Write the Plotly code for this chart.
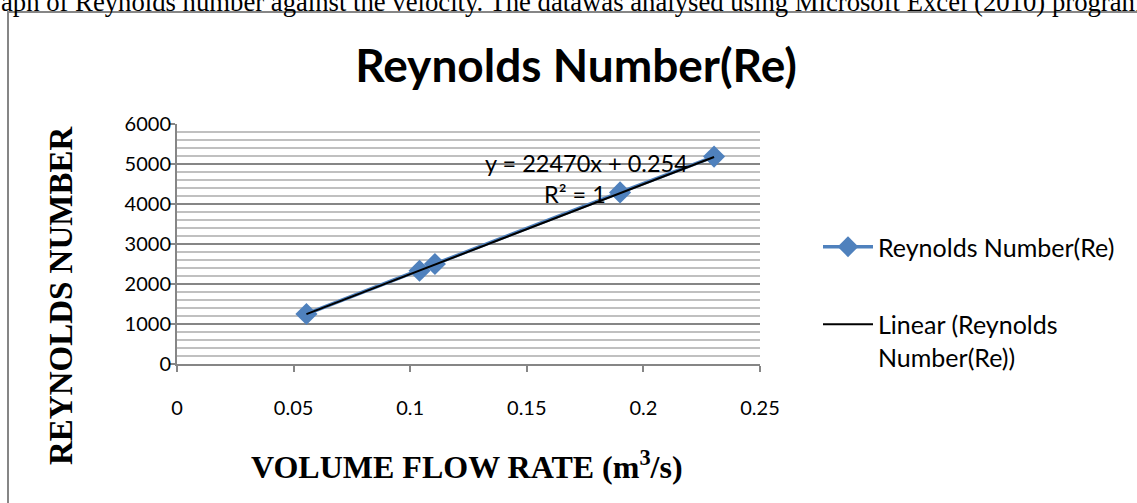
import plotly.graph_objects as go

# ---- data ----
flow_rate = [0.0555, 0.104, 0.1106, 0.190, 0.2303]      # m^3/s
reynolds = [1250, 2330, 2500, 4290, 5185]
slope = 22470
intercept = 0.254
x_ticks = [0, 0.05, 0.1, 0.15, 0.2, 0.25]
x_tick_labels = ["0", "0.05", "0.1", "0.15", "0.2", "0.25"]
y_ticks = [0, 1000, 2000, 3000, 4000, 5000, 6000]

trend_x = [min(flow_rate), max(flow_rate)]
trend_y = [slope * v + intercept for v in trend_x]

W, H = 1137, 503
L, R, T, B = 177, 377, 124, 139
PW, PH = W - L - R, H - T - B


def px(xp):
    return (xp - L) / PW


def py(yp):
    return (H - B - yp) / PH


BLUE = "#4F81BD"
GRID_MAJOR = "#868686"
GRID_MINOR = "#C0C0C0"
SANS = "Lato"
SERIF = "Liberation Serif"

fig = go.Figure()
fig.add_trace(go.Scatter(
    x=flow_rate, y=reynolds, mode="lines+markers",
    name="Reynolds Number(Re)",
    line=dict(color=BLUE, width=3.5),
    marker=dict(symbol="diamond", size=17, color=BLUE),
    legendgroup="a",
))
fig.add_trace(go.Scatter(
    x=trend_x, y=trend_y, mode="lines",
    name="Linear (Reynolds<br>Number(Re))",
    line=dict(color="black", width=2),
    legendgroup="b", yaxis="y2",
))

annotations = [
    dict(text="y = 22470x + 0.254", x=0.1758, y=5025, xref="x", yref="y",
         showarrow=False, font=dict(family=SANS, size=23.5, color="black")),
    dict(text="R² = 1", x=0.1707, y=4250, xref="x", yref="y",
         showarrow=False, font=dict(family=SANS, size=23.5, color="black")),
    dict(text="<b>REYNOLDS NUMBER</b>", x=px(61), y=py(296), xref="paper", yref="paper",
         textangle=-90, showarrow=False, xanchor="center", yanchor="middle",
         font=dict(family=SERIF, size=33, color="black")),
    dict(text="<b>VOLUME FLOW RATE (m<sup>3</sup>/s)</b>", x=px(467), y=py(465),
         xref="paper", yref="paper", showarrow=False, xanchor="center", yanchor="middle",
         font=dict(family=SERIF, size=32, color="black")),
    dict(text="aph of Reynolds number against the velocity. The datawas analysed using Microsoft Excel (2010) program",
         x=px(-1), y=py(2), xref="paper", yref="paper", showarrow=False,
         xanchor="left", yanchor="middle",
         font=dict(family=SERIF, size=26.7, color="black")),
]

shapes = [
    dict(type="rect", xref="paper", yref="paper",
         x0=px(8), y0=py(12), x1=px(1160), y1=py(530),
         line=dict(color=GRID_MAJOR, width=2), fillcolor="rgba(0,0,0,0)", layer="below"),
]

fig.update_layout(
    width=W, height=H,
    margin=dict(l=L, r=R, t=T, b=B, autoexpand=False),
    paper_bgcolor="white", plot_bgcolor="white",
    title=dict(text="<b>Reynolds Number(Re)</b>", x=576 / W, y=1 - 66 / H,
               xanchor="center", yanchor="middle", xref="container",
               font=dict(family=SANS, size=46, color="black")),
    xaxis=dict(range=[0, 0.25], tickvals=x_ticks, ticktext=x_tick_labels,
               showgrid=False, zeroline=False, showline=True, linecolor=GRID_MAJOR, linewidth=1.5,
               ticks="outside", ticklen=6, tickcolor=GRID_MAJOR, tickwidth=1.5,
               ticklabelstandoff=19,
               tickfont=dict(family=SANS, size=20, color="black")),
    yaxis=dict(range=[0, 6000], tickvals=y_ticks, showticklabels=False,
               showgrid=True, gridcolor=GRID_MAJOR, gridwidth=1.5,
               minor=dict(dtick=200, showgrid=True, gridcolor=GRID_MINOR, gridwidth=1.5),
               zeroline=False, showline=True, linecolor=GRID_MAJOR, linewidth=1.5,
               ticks="outside", ticklen=6, tickcolor=GRID_MAJOR, tickwidth=1.5),
    yaxis2=dict(range=[0, 6000], tickvals=y_ticks, overlaying="y", side="left",
                showgrid=False, zeroline=False, showline=False,
                ticks="outside", ticklen=1, tickcolor="rgba(0,0,0,0)",
                ticklabelstandoff=0,
                tickfont=dict(family=SANS, size=20, color="black")),
    legend=dict(x=px(818), y=py(224), xanchor="left", yanchor="top",
                font=dict(family=SANS, size=25, color="black"),
                traceorder="grouped", tracegroupgap=42, valign="top",
                itemwidth=50, bgcolor="rgba(0,0,0,0)"),
    showlegend=True,
    annotations=annotations,
    shapes=shapes,
)

fig.write_html("out.html")
